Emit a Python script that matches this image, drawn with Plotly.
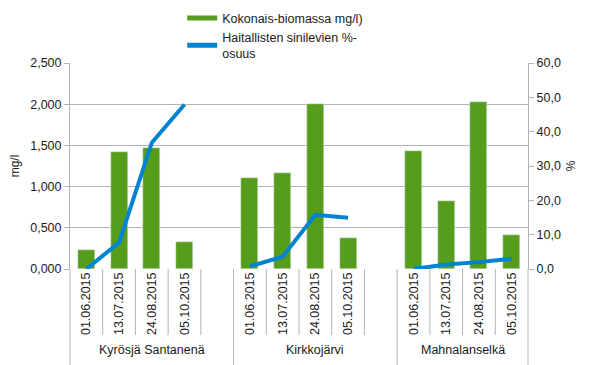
import plotly.graph_objects as go

# ---- data ----
groups = ["Kyrösjä Santanenä", "Kirkkojärvi", "Mahnalanselkä"]
dates = ["01.06.2015", "13.07.2015", "24.08.2015", "05.10.2015"]
biomass = [
    [0.23, 1.42, 1.47, 0.33],
    [1.10, 1.16, 2.00, 0.38],
    [1.43, 0.83, 2.03, 0.41],
]
share = [
    [0.0, 7.7, 36.8, 47.9],
    [0.8, 3.6, 15.8, 14.9],
    [0.0, 1.3, 2.0, 3.0],
]
bar_name = "Kokonais-biomassa mg/l)"
line_name = "Haitallisten sinilevien %-<br>osuus"

slot = 5
n_slots = slot * (len(groups) - 1) + len(dates)

bx, by, lx, ly, tickvals, ticktext = [], [], [], [], [], []
for g in range(len(groups)):
    for i, d in enumerate(dates):
        xc = g * slot + i + 0.5
        bx.append(xc); by.append(biomass[g][i])
        lx.append(xc); ly.append(share[g][i])
        tickvals.append(xc); ticktext.append(d)
    lx.append(None); ly.append(None)

GREEN = "#579D1C"
BLUE = "#0084D1"
GRID = "#b3b3b3"
FONT = "Liberation Sans"
TXT = "#1a1a1a"
NONE = "rgba(0,0,0,0)"

fig = go.Figure()
fig.add_trace(go.Bar(x=bx, y=by, name=bar_name, marker_color=GREEN,
                     width=0.52, showlegend=False, yaxis="y"))
fig.add_trace(go.Scatter(x=[None], y=[None], mode="lines", name=bar_name,
                         line=dict(color=GREEN, width=8), yaxis="y"))
fig.add_trace(go.Scatter(x=lx, y=ly, mode="lines", name=line_name,
                         line=dict(color=BLUE, width=4), yaxis="y2",
                         connectgaps=False))

# page body has an 8px margin: figure is sized so the chart lands at 605x365 view
OFF = 8
W, H = 605 - OFF, 365 - OFF
L, R, T, B = 70 - OFF, 77, 63 - OFF, 96
plot_h = H - T - B
bottom_paper = -(B + 4) / plot_h
tick_paper = -66 / plot_h

shapes = [
    # clean band under the date labels (group names are drawn above it)
    dict(type="rect", xref="paper", yref="paper", x0=-0.02, x1=1.02,
         y0=-66.5 / plot_h, y1=-(B + 4) / plot_h, fillcolor="white",
         line=dict(width=0), layer="above"),
]
for xv in range(1, n_slots):
    if xv % slot == 0:
        continue
    shapes.append(dict(type="line", xref="x", yref="paper", x0=xv, x1=xv,
                       y0=0, y1=tick_paper, line=dict(color=GRID, width=1)))
for xv in [0, slot, 2 * slot, n_slots]:
    if xv == 0:
        shapes.append(dict(type="line", xref="paper", yref="paper", x0=0, x1=0,
                           y0=0, y1=bottom_paper, line=dict(color=GRID, width=1)))
    elif xv == n_slots:
        shapes.append(dict(type="line", xref="paper", yref="paper", x0=1, x1=1,
                           y0=0, y1=bottom_paper, line=dict(color=GRID, width=1)))
    else:
        shapes.append(dict(type="line", xref="x", yref="paper", x0=xv, x1=xv,
                           y0=0, y1=bottom_paper, line=dict(color=GRID, width=1)))

annotations = []
for g, name in enumerate(groups):
    start = g * slot
    end = min(start + slot, n_slots)
    annotations.append(dict(x=(start + end) / 2, y=-81 / plot_h, xref="x", yref="paper",
                            text=name, showarrow=False, yanchor="middle",
                            bgcolor=NONE, bordercolor=NONE, borderwidth=0,
                            font=dict(family=FONT, size=12.5, color=TXT)))

fig.update_layout(
    width=W, height=H,
    margin=dict(l=L, r=R, t=T, b=B, autoexpand=False),
    paper_bgcolor="white", plot_bgcolor="white",
    separators=", ",
    font=dict(family=FONT, size=12, color=TXT),
    bargap=0,
    xaxis=dict(
        range=[0, n_slots], tickmode="array", tickvals=tickvals, ticktext=ticktext,
        tickangle=-90, ticks="", showgrid=False, zeroline=False, showline=False,
        gridcolor=NONE, zerolinecolor=NONE, linecolor=NONE, tickcolor=NONE,
        automargin=False,
        tickfont=dict(family=FONT, size=12.5, color=TXT),
    ),
    yaxis=dict(
        range=[0, 2.5], tickmode="linear", tick0=0, dtick=0.5, tickformat=".3f",
        showgrid=True, gridcolor=GRID, gridwidth=1, zeroline=False,
        showline=True, linecolor=GRID, ticks="outside", ticklen=5, tickcolor=GRID,
        title=dict(text="mg/l", standoff=16, font=dict(family=FONT, size=12, color=TXT)),
        tickfont=dict(family=FONT, size=12.5, color=TXT), automargin=False,
    ),
    yaxis2=dict(
        range=[0, 60], tickmode="linear", tick0=0, dtick=10, tickformat=".1f",
        overlaying="y", side="right", showgrid=False, zeroline=False,
        showline=True, linecolor=GRID, ticks="outside", ticklen=5, tickcolor=GRID,
        title=dict(text="%", standoff=6, font=dict(family=FONT, size=12, color=TXT)),
        tickfont=dict(family=FONT, size=12.5, color=TXT), automargin=False,
    ),
    legend=dict(x=0.245, y=1.29, xanchor="left", yanchor="top",
                bgcolor=NONE, borderwidth=0,
                font=dict(family=FONT, size=12.5, color=TXT),
                tracegroupgap=0, itemsizing="constant"),
    shapes=shapes,
    annotations=annotations,
)

fig.write_html("out.html")
